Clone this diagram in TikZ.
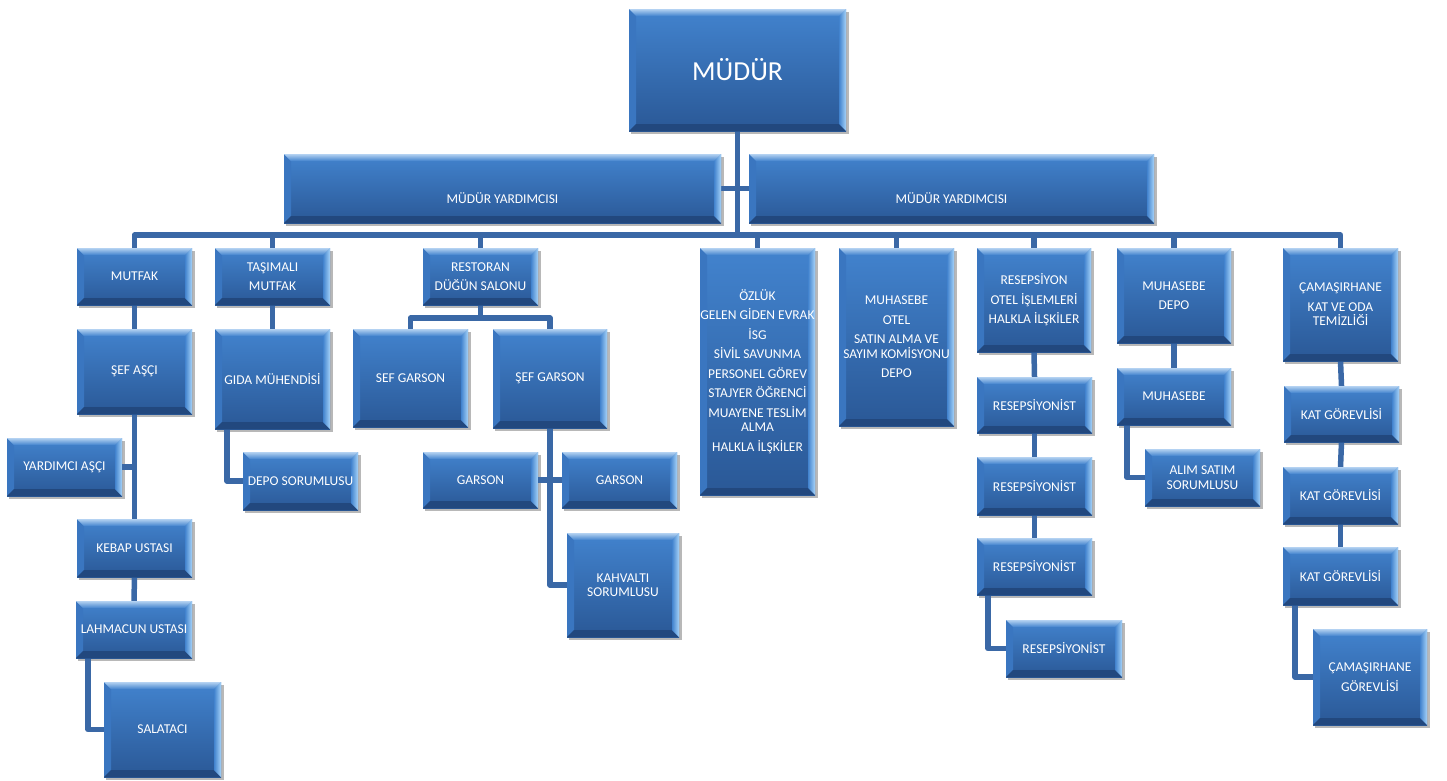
\documentclass[tikz,border=0pt]{standalone}
\usepackage{fontspec}
\setmainfont{Carlito}
\usetikzlibrary{calc}
\pgfdeclarelayer{background}
\pgfsetlayers{background,main}
\definecolor{btop}{RGB}{66,131,206}
\definecolor{bbot}{RGB}{42,88,150}
\definecolor{bvT}{RGB}{105,165,228}
\definecolor{bvL}{RGB}{58,118,192}
\definecolor{bvR}{RGB}{165,210,248}
\definecolor{bvB}{RGB}{34,72,126}
\definecolor{connc}{RGB}{58,104,166}
\tikzset{
  box/.style={inner sep=0pt, outer sep=0pt, top color=btop, bottom color=bbot,
    text=white, align=center, font=\fontsize{13.5}{14.5}\selectfont,
    path picture={
      \path (path picture bounding box.north west) coordinate (@nw)
            (path picture bounding box.north east) coordinate (@ne)
            (path picture bounding box.south west) coordinate (@sw)
            (path picture bounding box.south east) coordinate (@se);
      \fill[bvL] (@nw) -- (@sw) -- ($(@sw)+(7,-7)$) -- ($(@nw)+(7,7)$) -- cycle;
      \fill[bvB] (@sw) -- (@se) -- ($(@se)+(-7,-7)$) -- ($(@sw)+(7,-7)$) -- cycle;
      \shade[left color=btop, right color=bvR] (@ne) -- (@se) -- ($(@se)+(-7,-7)$) -- ($(@ne)+(-7,7)$) -- cycle;
      \shade[top color=bvT!50!white, bottom color=btop] (@nw) -- (@ne) -- ($(@ne)+(-7,7)$) -- ($(@nw)+(7,7)$) -- cycle;
    }},
  txt/.style={text=white, align=center, font=\fontsize{13.5}{14.5}\selectfont},
  conn/.style={draw=connc, line width=5.5pt, line join=round},
  shad/.style={fill=black, opacity=0.28}
}
\newcommand\bx[6]{%
  \node[box, minimum width={(#4-#2)*1pt}, minimum height={(#5-#3)*1pt}] (#1) at ({(#2+#4)/2},{(#3+#5)/2}) {#6};
}
\begin{document}
\begin{tikzpicture}[x=1pt,y=-1pt]
\useasboundingbox (0,0) rectangle (1447,780);
% top
\node[box, minimum width=217pt, minimum height=122pt, font=\fontsize{27.5}{30}\selectfont] (mudur) at ({(629+846)/2},{(9+131)/2}) {MÜDÜR};
\node[box, minimum width=437pt, minimum height=69pt, label={[txt,yshift=-10pt]center:MÜDÜR YARDIMCISI}] (my1) at ({(284+721)/2},{(154+223)/2}) {};
\node[box, minimum width=405pt, minimum height=69pt, label={[txt,yshift=-10pt]center:MÜDÜR YARDIMCISI}] (my2) at ({(749+1154)/2},{(154+223)/2}) {};
% level 2
\bx{mutfak}{77}{248}{192}{305}{MUTFAK}
\bx{tasi}{215}{248}{330}{305}{TAŞIMALI\\[5pt]MUTFAK}
\bx{rest}{423}{248}{538}{305}{RESTORAN\\[5pt]DÜĞÜN SALONU}
\bx{ozluk}{700}{248}{815}{495}{ÖZLÜK\\[5pt]GELEN GİDEN EVRAK\\[5pt]İSG\\[5pt]SİVİL SAVUNMA\\[5pt]PERSONEL GÖREV\\[5pt]STAJYER ÖĞRENCİ\\[5pt]MUAYENE TESLİM\\ALMA\\[5pt]HALKLA İLŞKİLER}
\bx{muhotel}{839}{248}{954}{426}{MUHASEBE\\[5pt]OTEL\\[5pt]SATIN ALMA VE\\SAYIM KOMİSYONU\\[5pt]DEPO}
\bx{resep}{977}{248}{1091}{352}{RESEPSİYON\\[5pt]OTEL İŞLEMLERİ\\[5pt]HALKLA İLŞKİLER}
\bx{muhdepo}{1117}{248}{1231}{343}{MUHASEBE\\[5pt]DEPO}
\bx{cam}{1283}{248}{1398}{361}{ÇAMAŞIRHANE\\[5pt]KAT VE ODA\\TEMİZLİĞİ}
% mutfak column
\bx{sefasci}{77}{329}{192}{414}{ŞEF AŞÇI}
\bx{yard}{7}{438}{122}{496}{YARDIMCI AŞÇI}
\bx{kebap}{77}{519}{192}{577}{KEBAP USTASI}
\bx{lahm}{76}{601}{192}{658}{LAHMACUN USTASI}
\bx{salat}{104}{682}{221}{777}{SALATACI}
% tasimali
\bx{gida}{215}{329}{330}{429}{GIDA MÜHENDİSİ}
\bx{depo}{243}{452}{358}{510}{DEPO SORUMLUSU}
% restoran
\bx{sefg}{353}{329}{468}{427}{SEF GARSON}
\bx{sefgg}{493}{329}{607}{428}{ŞEF GARSON}
\bx{garA}{423}{452}{538}{508}{GARSON}
\bx{garB}{562}{452}{677}{508}{GARSON}
\bx{kahv}{567}{533}{679}{637}{KAHVALTI\\SORUMLUSU}
% resepsiyon
\bx{rA}{977}{377}{1092}{433}{RESEPSİYONİST}
\bx{rB}{977}{457}{1092}{515}{RESEPSİYONİST}
\bx{rC}{977}{538}{1092}{595}{RESEPSİYONİST}
\bx{rD}{1006}{620}{1122}{677}{RESEPSİYONİST}
% muhasebe
\bx{muh}{1117}{368}{1231}{425}{MUHASEBE}
\bx{alim}{1145}{449}{1260}{506}{ALIM SATIM\\SORUMLUSU}
% camasirhane
\bx{katA}{1284}{386}{1399}{442}{KAT GÖREVLİSİ}
\bx{katB}{1283}{467}{1398}{524}{KAT GÖREVLİSİ}
\bx{katC}{1283}{547}{1398}{605}{KAT GÖREVLİSİ}
\bx{camg}{1313}{629}{1427}{725}{ÇAMAŞIRHANE\\[5pt]GÖREVLİSİ}
\coordinate (busy) at (0,235);
\coordinate (rj) at ($(rest.south)+(0,13)$);
\begin{pgfonlayer}{background}
  \foreach \n in {mudur,my1,my2,mutfak,tasi,rest,ozluk,muhotel,resep,muhdepo,cam,sefasci,yard,kebap,lahm,salat,gida,depo,sefg,sefgg,garA,garB,kahv,rA,rB,rC,rD,muh,alim,katA,katB,katC,camg}
    \fill[shad] ($(\n.south west)+(2,3)$) rectangle ($(\n.north east)+(3,3)$);
  % main trunk and bus
  \draw[conn] (mudur.south) -- (mudur.south |- busy);
  \draw[conn] (my1.east) -- (my2.west);
  \draw[conn] (mutfak.north) -- (mutfak.north |- busy) -- (cam.north |- busy) -- (cam.north);
  \foreach \n in {tasi,rest,ozluk,muhotel,resep,muhdepo}
    \draw[conn] (\n.north) -- (\n.north |- busy);
  % mutfak
  \draw[conn] (mutfak.south) -- (sefasci.north);
  \draw[conn] (sefasci.south) -- (kebap.north);
  \draw[conn] (yard.east) -- (yard.east -| sefasci.south);
  \draw[conn] (kebap.south) -- (lahm.north);
  \draw[conn] ($(lahm.south west)+(12,0)$) |- (salat.west);
  % tasimali
  \draw[conn] (tasi.south) -- (gida.north);
  \draw[conn] ($(gida.south west)+(12,0)$) |- (depo.west);
  % restoran
  \draw[conn] (rest.south) -- (rj);
  \draw[conn] (sefg.north) |- (rj) -| (sefgg.north);
  \draw[conn] (sefgg.south) |- (kahv.west);
  \draw[conn] (garA.east) -- (garB.west);
  % resepsiyon
  \draw[conn] (resep.south) -- (rA.north);
  \draw[conn] (rA.south) -- (rB.north);
  \draw[conn] (rB.south) -- (rC.north);
  \draw[conn] ($(rC.south west)+(11,0)$) |- (rD.west);
  % muhasebe
  \draw[conn] (muhdepo.south) -- (muh.north);
  \draw[conn] ($(muh.south west)+(10,0)$) |- (alim.west);
  % camasirhane
  \draw[conn] (cam.south) -- (katA.north);
  \draw[conn] (katA.south) -- (katB.north);
  \draw[conn] (katB.south) -- (katC.north);
  \draw[conn] ($(katC.south west)+(12,0)$) |- (camg.west);
\end{pgfonlayer}
\end{tikzpicture}
\end{document}
